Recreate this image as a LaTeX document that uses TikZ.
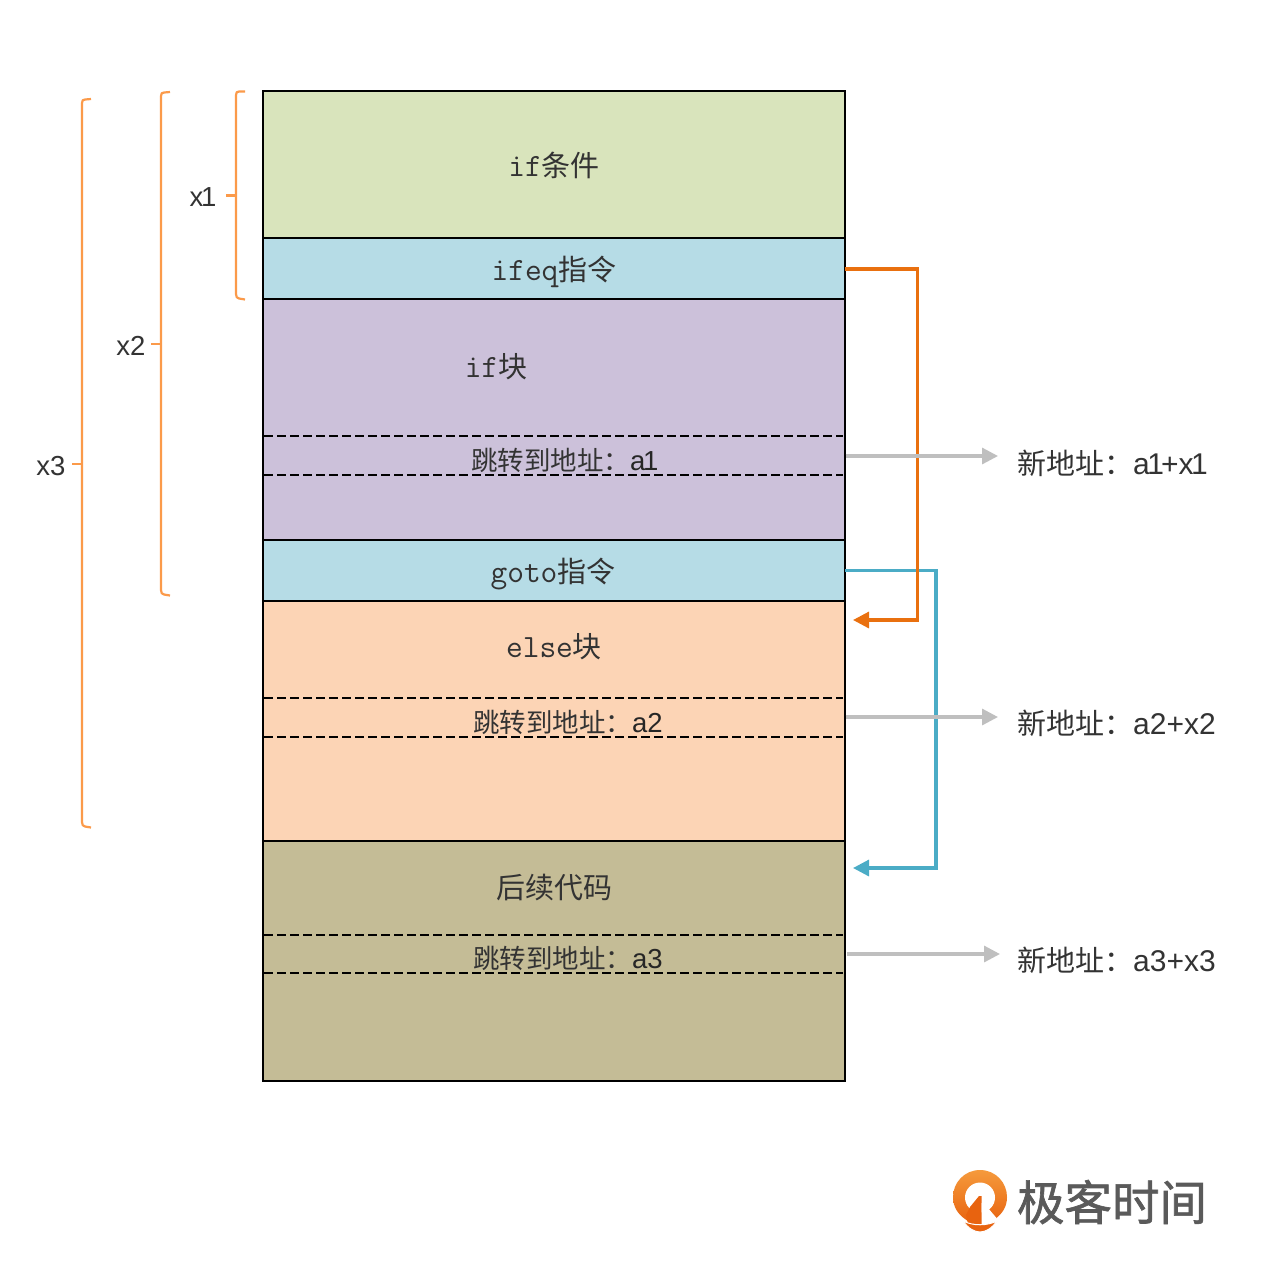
\documentclass[tikz,border=0pt]{standalone}
\usepackage{fontspec}
\setmainfont{Liberation Sans}
\newfontfamily\cjk{Noto Sans CJK SC}
\newfontfamily\cjkb[FakeBold=1.4]{Noto Sans CJK SC}
\usetikzlibrary{arrows.meta,calc}
\definecolor{gA}{HTML}{D9E4BC}
\definecolor{bA}{HTML}{B6DCE6}
\definecolor{pA}{HTML}{CCC1DA}
\definecolor{oA}{HTML}{FCD4B5}
\definecolor{kA}{HTML}{C4BC96}
\definecolor{brk}{HTML}{FB9A4A}
\definecolor{ora}{HTML}{E9700F}
\definecolor{tea}{HTML}{4BACC6}
\definecolor{gry}{HTML}{BFBFBF}
\definecolor{txt}{HTML}{333333}
\definecolor{lg}{HTML}{5A5A5A}
\definecolor{lgtop}{HTML}{F59A3C}
\definecolor{lgbot}{HTML}{E8630F}
\tikzset{
  blockbox/.style={draw=black,line width=2pt,minimum width=582pt,inner sep=0pt,outer sep=0pt,anchor=north west},
  lbl/.style={text=txt,inner sep=0pt,font=\fontsize{29}{32}\selectfont},
  cut/.style={black,line width=1.8pt,dash pattern=on 8.5pt off 4.5pt},
  brace/.style={brk,line width=2.2pt,line join=round},
  jump/.style={line width=3.2pt,-{Triangle[length=16pt,width=16pt]}},
  addr/.style={gry,line width=3.2pt,-{Triangle[length=16pt,width=16pt]}}
}
\newcommand{\mn}[1]{{\ttfamily\fontsize{32.5}{34}\selectfont #1}}
\newcommand{\zh}[1]{{\cjk #1}}
\newcommand{\js}[2]{{\fontsize{26.5}{30}\selectfont\cjk 跳转到地址：}{\fontsize{27.5}{30}\selectfont\color{black!85}#1#2}}
\newcommand{\nar}{\kern-2.5pt 1}
\newcommand{\lat}[1]{{\fontsize{30}{32}\selectfont #1}}
\begin{document}
\begin{tikzpicture}[x=1pt,y=-1pt]
\useasboundingbox (0,0) rectangle (1265,1262);
\fill[white] (0,0) rectangle (1265,1262);
% blocks
\node[blockbox,fill=gA,minimum height=147pt] (cond) at (262.5,91) {};
\node[blockbox,fill=bA,minimum height=61pt] (ifeq) at (262.5,238) {};
\node[blockbox,fill=pA,minimum height=241pt] (ifb) at (262.5,299) {};
\node[blockbox,fill=bA,minimum height=61pt] (gotob) at (262.5,540) {};
\node[blockbox,fill=oA,minimum height=240pt] (elseb) at (262.5,601) {};
\node[blockbox,fill=kA,minimum height=240pt] (rest) at (262.5,841) {};
% dashed
\coordinate (d1a) at (264,436); \coordinate (d1b) at (843,436);
\coordinate (d2a) at (264,475); \coordinate (d2b) at (843,475);
\coordinate (d3a) at (264,698); \coordinate (d3b) at (843,698);
\coordinate (d4a) at (264,737); \coordinate (d4b) at (843,737);
\coordinate (d5a) at (264,935); \coordinate (d5b) at (843,935);
\coordinate (d6a) at (264,973); \coordinate (d6b) at (843,973);
\draw[cut] (d1a) -- (d1b); \draw[cut] (d2a) -- (d2b);
\draw[cut] (d3a) -- (d3b); \draw[cut] (d4a) -- (d4b);
\draw[cut] (d5a) -- (d5b); \draw[cut] (d6a) -- (d6b);
% block labels
\node[lbl] (t1) at (554,165) {\mn{if}\zh{条件}};
\node[lbl] (t2) at (554,272) {\mn{ifeq}\zh{指令}};
\node[lbl] (t3) at (496,367) {\mn{if}\zh{块}};
\node[lbl] (t4) at (553,574) {\mn{goto}\zh{指令}};
\node[lbl] (t5) at (554,647) {\mn{else}\zh{块}};
\node[lbl] (t6) at (554,887) {\zh{后续代码}};
\node[lbl,anchor=west] (j1) at (471,460) {\js{a}{\nar}};
\node[lbl,anchor=west] (j2) at (473,722) {\js{a}{2}};
\node[lbl,anchor=west] (j3) at (473,958) {\js{a}{3}};
% address labels
\node[lbl,anchor=west] (n1) at (1017,463) {\zh{新地址：}\lat{a\nar\kern-3pt+x\nar}};
\node[lbl,anchor=west] (n2) at (1017,723) {\zh{新地址：}\lat{a2+x2}};
\node[lbl,anchor=west] (n3) at (1017,960) {\zh{新地址：}\lat{a3+x3}};
% brackets
\draw[brace] (245,91.5) -- (239,91.5) .. controls (237,91.5) and (236,92.5) .. (236,95) -- (236,294) .. controls (236,297) and (237,298) .. (239,298.5) -- (245,299.5);
\draw[brace] (226,195.5) -- (236,195.5);
\draw[brace] (170,92) -- (164,92.5) .. controls (162,92.5) and (161,93.5) .. (161,96) -- (161,590) .. controls (161,593) and (162,594) .. (164,594.5) -- (170,595.5);
\draw[brace] (151,344) -- (161,344);
\draw[brace] (91,99) -- (85,99.5) .. controls (83,99.5) and (82,100.5) .. (82,103) -- (82,822) .. controls (82,825) and (83,826) .. (85,826.5) -- (91,827.5);
\draw[brace] (72,464) -- (82,464);
\node[lbl,font=\fontsize{27.5}{30}\selectfont] (x1) at (203,197) {x\nar};
\node[lbl,font=\fontsize{27.5}{30}\selectfont] (x2) at (131,346) {x2};
\node[lbl,font=\fontsize{27.5}{30}\selectfont] (x3) at (51,466) {x3};
% connectors
\coordinate (ifeqT) at (853,620);
\coordinate (gotoT) at (853,868);
\draw[jump,tea] ($(gotob.north east)+(0,30.5)$) -- (936,570.5) -- (936,868) -- (gotoT);
\draw[jump,ora] ($(ifeq.north east)+(0,31)$) -- (917.5,269) -- (917.5,620) -- (ifeqT);
\coordinate (g1) at (998,456); \coordinate (g2) at (998,717); \coordinate (g3) at (1000,954);
\coordinate (s1) at (845.5,456); \coordinate (s2) at (845.5,717); \coordinate (s3) at (847,954);
\draw[addr] (s1) -- (g1);
\draw[addr] (s2) -- (g2);
\draw[addr] (s3) -- (g3);
% logo
\shade[top color=lgtop,bottom color=lgbot] (980,1170) .. controls (996,1170) and (1007,1183) .. (1007,1197) .. controls (1007,1207) and (1002,1214) .. (995,1219) -- (985,1224) -- (972,1224) -- (965,1219) .. controls (958,1214) and (953,1207) .. (953,1197) .. controls (953,1183) and (964,1170) .. (980,1170) -- cycle;
\fill[white] (980,1197.5) circle[radius=15];
\fill[lgbot] (979,1196) -- (981.5,1196) -- (981.5,1224) -- (968,1224) -- (966,1215) -- (970,1207) -- cycle;
\fill[white] (981.5,1203) -- (992,1203) -- (988,1208) -- (996.5,1218) -- (996,1226) -- (981.5,1226) -- cycle;
\fill[lgbot,draw=white,line width=1pt] (963,1221) .. controls (973,1226) and (987,1226) .. (997,1221) .. controls (992,1228) and (986,1232) .. (980,1232) .. controls (974,1232) and (968,1228) .. (963,1221) -- cycle;
\node[text=lg,inner sep=0pt,font=\fontsize{47.5}{50}\selectfont\cjkb] (brand) at (1112,1202) {极客时间};
\end{tikzpicture}
\end{document}
